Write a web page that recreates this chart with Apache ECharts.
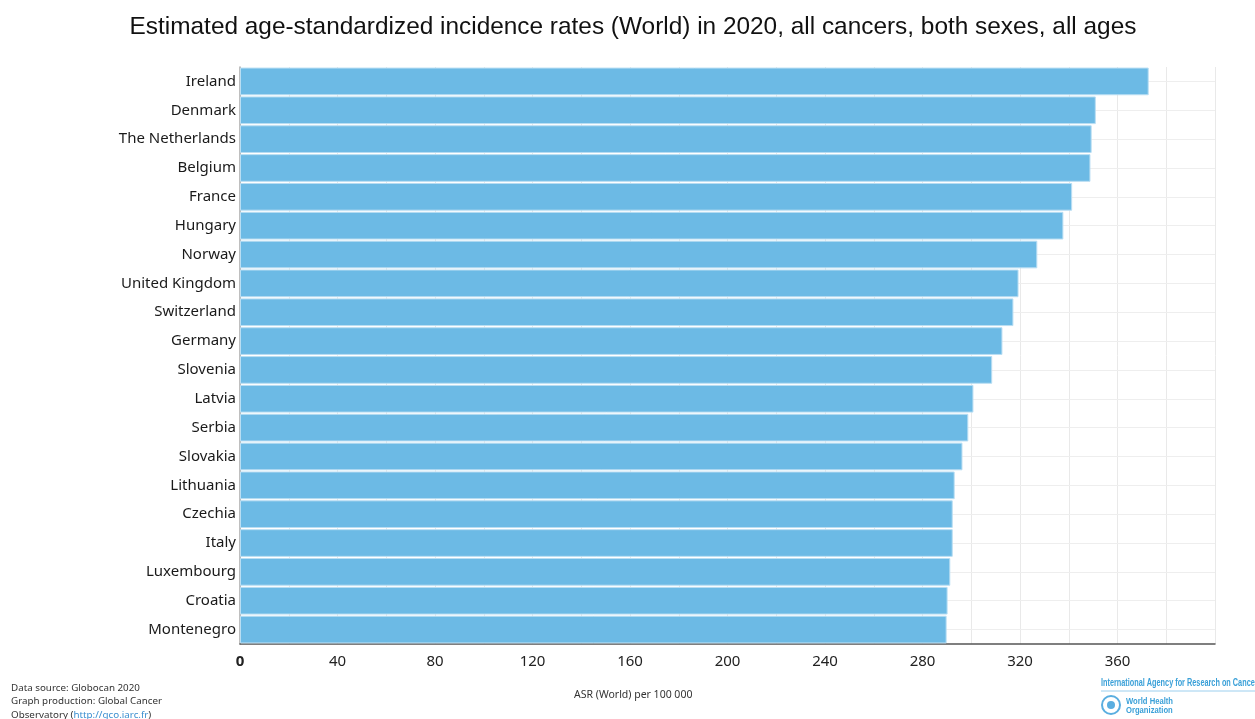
<!DOCTYPE html>
<html><head><meta charset="utf-8">
<script src="https://cdn.jsdelivr.net/npm/echarts@6/dist/echarts.min.js"></script>
<style>html,body{margin:0;padding:0;background:#fff}#c{width:1255px;height:719px}</style>
</head><body><div id="c"></div>
<script>
const categories = ["Ireland","Denmark","The Netherlands","Belgium","France","Hungary","Norway","United Kingdom","Switzerland","Germany","Slovenia","Latvia","Serbia","Slovakia","Lithuania","Czechia","Italy","Luxembourg","Croatia","Montenegro"];
const values = [372.8,351.1,349.4,348.9,341.4,337.8,327.1,319.4,317.3,312.8,308.6,300.9,298.8,296.4,293.2,292.4,292.4,291.4,290.3,289.9];
const title = "Estimated age-standardized incidence rates (World) in 2020, all cancers, both sexes, all ages";
const xName = "ASR (World) per 100 000";

const chart = echarts.init(document.getElementById('c'), null, {renderer:'canvas'});
const font = "'Noto Sans', 'Open Sans', sans-serif";
chart.setOption({
  animation:false,
  title:{text:title,left:628,textAlign:'center',top:10,textStyle:{fontFamily:"'Liberation Sans', Arial, sans-serif",fontSize:24.4,fontWeight:'normal',color:'#111'}},
  grid:{left:240,right:40,top:67,bottom:75,containLabel:false},
  xAxis:{type:'value',min:0,max:400,interval:20,
    axisLine:{show:true,lineStyle:{color:'#555',width:1.5}},
    axisTick:{show:false},
    axisLabel:{fontFamily:font,fontSize:15,color:'#222',margin:10,
      formatter:v=> (v%40===0 && v<400) ? (v===0?'{b|0}':String(v)) : '',
      rich:{b:{fontFamily:font,fontSize:15,fontWeight:'bold',color:'#222'}}},
    splitLine:{show:true,lineStyle:{color:'#e9e9e9',width:1}}},
  yAxis:{type:'category',data:categories,inverse:true,
    axisLine:{show:true,lineStyle:{color:'#aaa',width:1.5}},
    axisTick:{show:false},
    axisLabel:{fontFamily:font,fontSize:15,color:'#1a1a1a',margin:4},
    splitLine:{show:false}},
  series:[
    {type:'line',data:[],z:1,silent:true,
      markLine:{symbol:'none',silent:true,z:1,label:{show:false},
        lineStyle:{color:'#eeeeee',width:1,type:'solid'},
        data:categories.map(c=>({yAxis:c}))}},
    {type:'bar',data:values,z:3,barCategoryGap:'4%',
      itemStyle:{color:'#6cbae5',borderColor:'#b9def3',borderWidth:1}}
  ],
  graphic:[
    {type:'text',left:11,top:681,style:{text:'Data source: Globocan 2020\nGraph production: Global Cancer\nObservatory ({a|http://gco.iarc.fr})',
      font:"9.8px 'Noto Sans', sans-serif",fill:'#333',lineHeight:13.5,
      rich:{a:{font:"9.8px 'Noto Sans', sans-serif",fill:'#3b8fd0'}}}},
    {type:'text',left:574,top:690,style:{text:xName,font:"10.5px 'Noto Sans', sans-serif",fill:'#333'}},
    {type:'text',x:1101,y:678,scaleX:0.73,style:{text:'International Agency for Research on Cancer',font:"bold 10px 'Liberation Sans', sans-serif",fill:'#3aa0d8'}},
    {type:'line',shape:{x1:1101,y1:691,x2:1255,y2:691},style:{stroke:'#9ccfee',lineWidth:1}},
    {type:'circle',shape:{cx:1111,cy:705,r:9},style:{fill:'#fff',stroke:'#5aaee0',lineWidth:2}},
    {type:'circle',shape:{cx:1111,cy:705,r:4},style:{fill:'#5aaee0'}},
    {type:'text',x:1126,y:697,scaleX:0.85,style:{text:'World Health\nOrganization',font:"bold 9px 'Liberation Sans', sans-serif",fill:'#3aa0d8',lineHeight:9}}
  ]
});
</script></body></html>
